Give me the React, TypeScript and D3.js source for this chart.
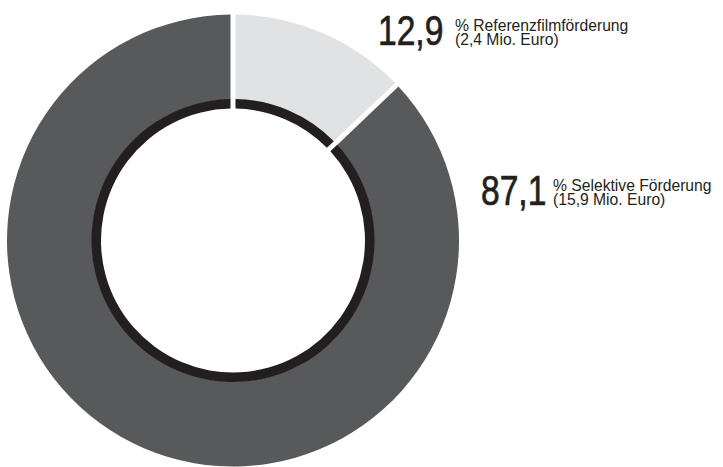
import React from "react";
import * as d3 from "d3";

const categories = ["Referenzfilmförderung", "Selektive Förderung"];
const shares = [12.9, 87.1];
const shareLabels = ["12,9", "87,1"];
const amountLabels = ["(2,4 Mio. Euro)", "(15,9 Mio. Euro)"];
const fills = ["#e1e2e3", "#58595b"];

const W = 723;
const H = 467;
const cx = 233;
const cy = 240.5;
const rOuter = 226;
const rMid = 141;
const rInner = 132;
const FONT = "'Liberation Sans', Arial, sans-serif";

const labelPos = [
  { x: 378, smallX: 455, y: 45 },
  { x: 481, smallX: 553, y: 205 },
];

export default function App() {
  const pie = d3.pie<number>().sort(null).value((d) => d).startAngle(0).endAngle(2 * Math.PI);
  const arcs = pie(shares);
  const outerArc = d3.arc<d3.PieArcDatum<number>>().innerRadius(rMid).outerRadius(rOuter).padAngle(0.05).padRadius(100);
  const ringArc = d3.arc<d3.PieArcDatum<number>>().innerRadius(rInner).outerRadius(rMid + 0.5).padAngle(0.05).padRadius(100);
  return (
    <svg width={W} height={H} style={{ position: "absolute", left: 0, top: 0, background: "#fff" }}>
      <g transform={`translate(${cx},${cy})`}>
        {arcs.map((a, i) => (
          <g key={categories[i]}>
            <path d={outerArc(a) || ""} fill={fills[i]} />
            <path d={ringArc(a) || ""} fill="#231f20" />
          </g>
        ))}
      </g>
      {arcs.map((a, i) => {
        const p = labelPos[i];
        return (
          <g key={"l" + i} fontFamily={FONT} fill="#231f20">
            <text
              transform={`translate(${p.x},${p.y}) scale(0.8,1)`}
              fontSize={42}
              stroke="#231f20"
              strokeWidth={0.7}
            >
              {shareLabels[i]}
            </text>
            <text transform={`translate(${p.smallX},${p.y - 14.5}) scale(0.98,1)`} fontSize={16}>
              {"% " + categories[i]}
            </text>
            <text transform={`translate(${p.smallX},${p.y}) scale(0.98,1)`} fontSize={16}>
              {amountLabels[i]}
            </text>
          </g>
        );
      })}
    </svg>
  );
}
